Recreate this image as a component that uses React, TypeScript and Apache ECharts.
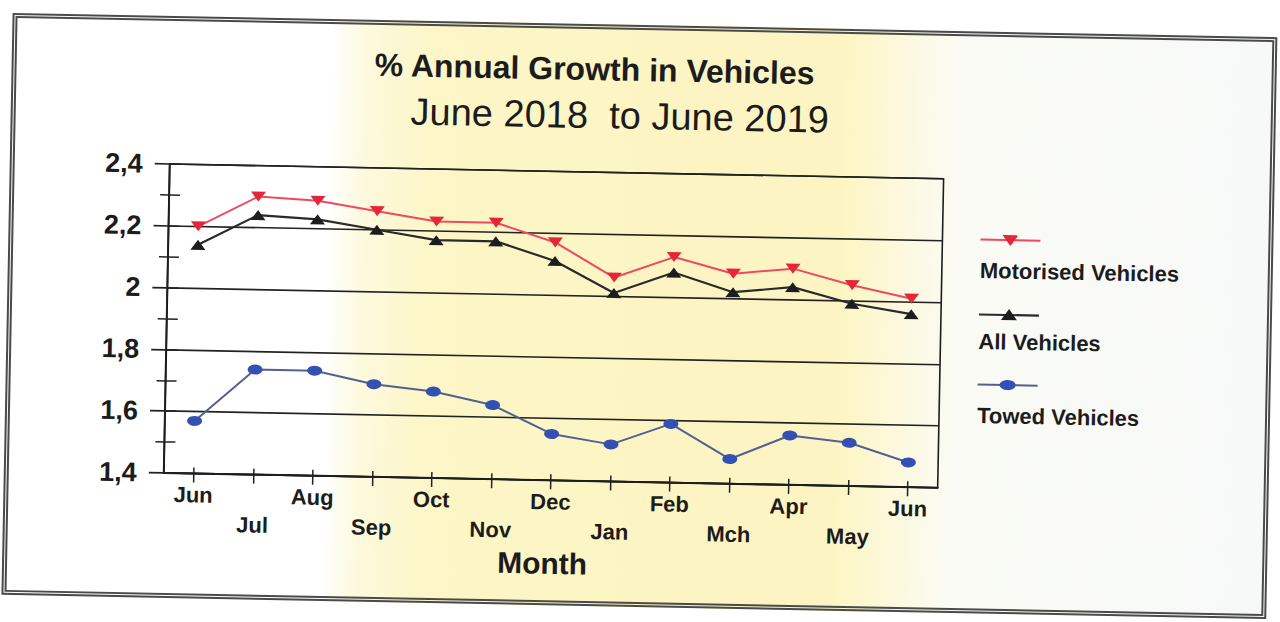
import React, { useEffect, useRef } from 'react';
import * as echarts from 'echarts';

const months = ['Jun', 'Jul', 'Aug', 'Sep', 'Oct', 'Nov', 'Dec', 'Jan', 'Feb', 'Mch', 'Apr', 'May', 'Jun'];
const seriesNames = ['Motorised Vehicles', 'All Vehicles', 'Towed Vehicles'];
const motorised = [2.2, 2.3, 2.29, 2.26, 2.23, 2.23, 2.17, 2.06, 2.13, 2.08, 2.1, 2.05, 2.01];
const allVehicles = [2.14, 2.24, 2.23, 2.2, 2.17, 2.17, 2.11, 2.01, 2.08, 2.02, 2.04, 1.99, 1.96];
const towed = [1.57, 1.74, 1.74, 1.7, 1.68, 1.64, 1.55, 1.52, 1.59, 1.48, 1.56, 1.54, 1.48];
const yMin = 1.4;
const yMax = 2.4;
const yStep = 0.2;
const titleText = '% Annual Growth in Vehicles';
const subtitleText = 'June 2018  to June 2019';
const xAxisName = 'Month';

const FONT = "'Liberation Sans', Arial, Helvetica, sans-serif";
const INK = '#1c1c1c';
const RED_LINE = '#ee4a5e';
const RED_MARK = '#e52538';
const BLK_LINE = '#2a2a2a';
const BLK_MARK = '#1d1d1d';
const BLU_LINE = '#52618f';
const BLU_MARK = '#3450b2';

function fmtY(v: number) {
  return String(+v.toFixed(1)).replace('.', ',');
}

function textEl(text: string, x: number, y: number, size: number, weight: string, align: string) {
  return {
    type: 'text',
    x,
    y,
    style: {
      text,
      fontSize: size,
      fontWeight: weight,
      fontFamily: FONT,
      lineHeight: size,
      fill: INK,
      align,
      verticalAlign: 'middle',
    },
  };
}

export default function App() {
  const ref = useRef<HTMLDivElement>(null);

  useEffect(() => {
    const chart = echarts.init(ref.current!, null, { renderer: 'svg' });

    const legendLineY = [233, 308, 378];
    const legendTextY = [264, 335, 409];
    const lx1 = 979;
    const lx2 = 1039;
    const lc = 1009;
    const legendEls: any[] = [
      { type: 'line', shape: { x1: lx1, y1: legendLineY[0], x2: lx2, y2: legendLineY[0] }, style: { stroke: RED_LINE, lineWidth: 2 } },
      { type: 'polygon', shape: { points: [[lc - 8, legendLineY[0] - 5], [lc + 8, legendLineY[0] - 5], [lc, legendLineY[0] + 6]] }, style: { fill: RED_MARK } },
      textEl(seriesNames[0], lx1, legendTextY[0], 22, 'bold', 'left'),
      { type: 'line', shape: { x1: lx1, y1: legendLineY[1], x2: lx2, y2: legendLineY[1] }, style: { stroke: BLK_LINE, lineWidth: 2.2 } },
      { type: 'polygon', shape: { points: [[lc - 8, legendLineY[1] + 5], [lc + 8, legendLineY[1] + 5], [lc, legendLineY[1] - 6]] }, style: { fill: BLK_MARK } },
      textEl(seriesNames[1], lx1, legendTextY[1], 22, 'bold', 'left'),
      { type: 'line', shape: { x1: lx1, y1: legendLineY[2], x2: lx2, y2: legendLineY[2] }, style: { stroke: BLU_LINE, lineWidth: 2 } },
      { type: 'ellipse', shape: { cx: lc, cy: legendLineY[2], rx: 8, ry: 5 }, style: { fill: BLU_MARK } },
      textEl(seriesNames[2], lx1, legendTextY[2], 22, 'bold', 'left'),
    ];

    const option: any = {
      animation: false,
      backgroundColor: 'transparent',
      textStyle: { fontFamily: FONT },
      grid: {
        left: 167,
        right: 339,
        top: 173,
        bottom: 140,
        show: true,
        borderColor: '#1e1e1e',
        borderWidth: 1.6,
        backgroundColor: 'transparent',
      },
      xAxis: [
        {
          type: 'category',
          data: months,
          boundaryGap: true,
          axisLine: { show: true, onZero: false, lineStyle: { color: '#1e1e1e', width: 2 } },
          axisTick: { show: true, alignWithLabel: true, length: 9, lineStyle: { color: '#222', width: 1.5 } },
          axisLabel: {
            interval: 0,
            margin: 7,
            fontSize: 22,
            fontWeight: 'bold',
            fontFamily: FONT,
            color: INK,
            lineHeight: 29,
            formatter: (v: string, i: number) => (i % 2 === 1 ? '\n' + v : v),
          },
          splitLine: { show: false },
          name: xAxisName,
          nameLocation: 'middle',
          nameGap: 68,
          nameTextStyle: { fontSize: 30, fontWeight: 'bold', fontFamily: FONT, color: INK, padding: [0, 14, 0, 0] },
        },
        {
          type: 'category',
          data: months,
          position: 'bottom',
          boundaryGap: true,
          axisLine: { show: false, onZero: false },
          axisTick: { show: true, inside: true, alignWithLabel: true, length: 6, lineStyle: { color: '#222', width: 1.5 } },
          axisLabel: { show: false },
          splitLine: { show: false },
        },
      ],
      yAxis: [
        {
          type: 'value',
          min: yMin,
          max: yMax,
          interval: yStep,
          axisLine: { show: true, lineStyle: { color: '#1e1e1e', width: 2 } },
          axisTick: { show: true, length: 15, lineStyle: { color: '#222', width: 1.6 } },
          minorTick: { show: true, splitNumber: 2, length: 9, lineStyle: { color: '#222', width: 1.5 } },
          splitLine: { show: true, lineStyle: { color: '#222', width: 1.6 } },
          axisLabel: {
            margin: 27,
            fontSize: 27,
            fontWeight: 'bold',
            fontFamily: FONT,
            color: INK,
            formatter: (v: number) => fmtY(v),
          },
        },
        {
          type: 'value',
          position: 'left',
          min: yMin,
          max: yMax,
          interval: yStep / 2,
          axisLine: { show: false },
          axisTick: { show: true, inside: true, length: 11, lineStyle: { color: '#222', width: 1.5 } },
          axisLabel: { show: false },
          splitLine: { show: false },
        },
      ],
      graphic: {
        elements: [
          textEl(titleText, 590, 70, 32, 'bold', 'center'),
          textEl(subtitleText, 616, 116, 38, 'normal', 'center'),
          ...legendEls,
        ],
      },
      series: [
        {
          name: seriesNames[0],
          type: 'line',
          data: motorised,
          xAxisIndex: 0,
          yAxisIndex: 0,
          symbol: 'triangle',
          symbolRotate: 180,
          symbolSize: [15, 10],
          lineStyle: { color: RED_LINE, width: 2 },
          itemStyle: { color: RED_MARK },
          z: 4,
        },
        {
          name: seriesNames[1],
          type: 'line',
          data: allVehicles,
          xAxisIndex: 0,
          yAxisIndex: 0,
          symbol: 'triangle',
          symbolSize: [15, 10],
          lineStyle: { color: BLK_LINE, width: 2.2 },
          itemStyle: { color: BLK_MARK },
          z: 3,
        },
        {
          name: seriesNames[2],
          type: 'line',
          data: towed,
          xAxisIndex: 0,
          yAxisIndex: 0,
          symbol: 'circle',
          symbolSize: [15, 10],
          lineStyle: { color: BLU_LINE, width: 2 },
          itemStyle: { color: BLU_MARK },
          z: 3,
        },
      ],
    };

    chart.setOption(option);
    return () => chart.dispose();
  }, []);

  return (
    <div style={{ position: 'fixed', left: 0, top: 0, width: 1280, height: 622, background: '#ffffff', overflow: 'hidden' }}>
      <div
        style={{
          position: 'absolute',
          left: 0,
          top: 0,
          width: 1280,
          height: 622,
          transform: 'rotate(1.1deg)',
          transformOrigin: '640px 311px',
        }}
      >
        <div
          style={{
            position: 'absolute',
            left: 7,
            top: 25,
            width: 1265,
            height: 582,
            boxSizing: 'border-box',
            border: '5px double #4a4a4a',
            background:
              'linear-gradient(to right, #ffffff 0%, #ffffff 25%, #fdf9dc 28%, #fcf6c8 33%, #fcf5c3 50%, #fcf5c3 66%, #fdf8da 70%, #fafbf4 75%, #f7f9f9 100%)',
          }}
        />
        <div ref={ref} style={{ position: 'absolute', left: 0, top: 0, width: 1280, height: 622 }} />
      </div>
    </div>
  );
}
